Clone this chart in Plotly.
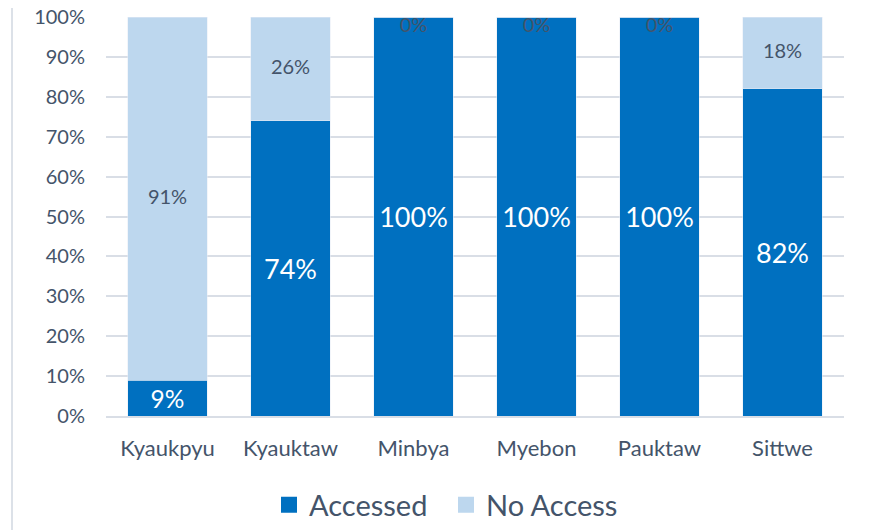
import plotly.graph_objects as go

categories = ["Kyaukpyu", "Kyauktaw", "Minbya", "Myebon", "Pauktaw", "Sittwe"]
accessed = [9, 74, 100, 100, 100, 82]
no_access = [91, 26, 0, 0, 0, 18]
y_ticks = [0, 10, 20, 30, 40, 50, 60, 70, 80, 90, 100]

dark_blue = "#0070C0"
light_blue = "#BDD7EE"
text_col = "#44546A"
font_family = "Lato, 'Open Sans', sans-serif"

fig = go.Figure()
fig.add_trace(go.Bar(
    x=categories, y=accessed, name="Accessed", marker_color=dark_blue,
    text=[f"{v}%" for v in accessed], textposition="inside",
    insidetextanchor="middle", textangle=0,
    textfont=dict(color="white", size=27, family=font_family),
    showlegend=False,
))
fig.add_trace(go.Bar(
    x=categories, y=no_access, name="No Access", marker_color=light_blue,
    showlegend=False,
))
# No Access labels centred on their segments (0% labels sit just under the top)
fig.add_trace(go.Scatter(
    x=categories, y=[a + n / 2 for a, n in zip(accessed, no_access)],
    mode="text", text=[f"{v}%" for v in no_access],
    textposition=["middle center" if n > 0 else "bottom center" for n in no_access],
    textfont=dict(color=text_col, size=20, family=font_family),
    showlegend=False, hoverinfo="skip", cliponaxis=False,
))
# legend entries with larger square swatches
for nm, col in [("Accessed", dark_blue), ("No Access", light_blue)]:
    fig.add_trace(go.Scatter(
        x=[None], y=[None], mode="markers", name=nm,
        marker=dict(symbol="square", size=21, color=col),
    ))

# page is offset by the 8px body margin
L, R, T, B = 98, 34, 9, 122
PW, PH = 870 - L - R, 530 - T - B
fig.update_layout(
    width=870, height=530, barmode="stack", bargap=0.35,
    margin=dict(l=L, r=R, t=T, b=B, autoexpand=False),
    plot_bgcolor="white", paper_bgcolor="white",
    font=dict(family=font_family, color=text_col),
    legend=dict(orientation="h", x=(438 - L) / PW, xanchor="center",
                y=(PH + T - 497) / PH, yanchor="middle",
                font=dict(size=29, color=text_col, family=font_family),
                traceorder="normal", itemwidth=30,
                entrywidth=132, entrywidthmode="pixels"),
    yaxis=dict(range=[0, 100], tickvals=y_ticks, ticktext=[f"{v}%" for v in y_ticks],
               showgrid=True, gridcolor="#D9DEE6", gridwidth=1.5, zeroline=False,
               tickfont=dict(size=20, color=text_col), ticks="", ticklen=0,
               ticklabelstandoff=20, automargin=False, ticklabeloverflow="allow"),
    xaxis=dict(showline=True, linecolor="#D9DEE6", linewidth=1.5,
               tickfont=dict(size=22, color=text_col), ticks="",
               ticklabelstandoff=12, automargin=False),
    shapes=[dict(type="line", xref="paper", yref="paper",
                 x0=(4 - L) / PW, x1=(4 - L) / PW,
                 y0=-B / PH - 0.05, y1=(PH + T) / PH + 0.05,
                 line=dict(color="#DCE1E8", width=2))],
)
fig.write_html("out.html")
